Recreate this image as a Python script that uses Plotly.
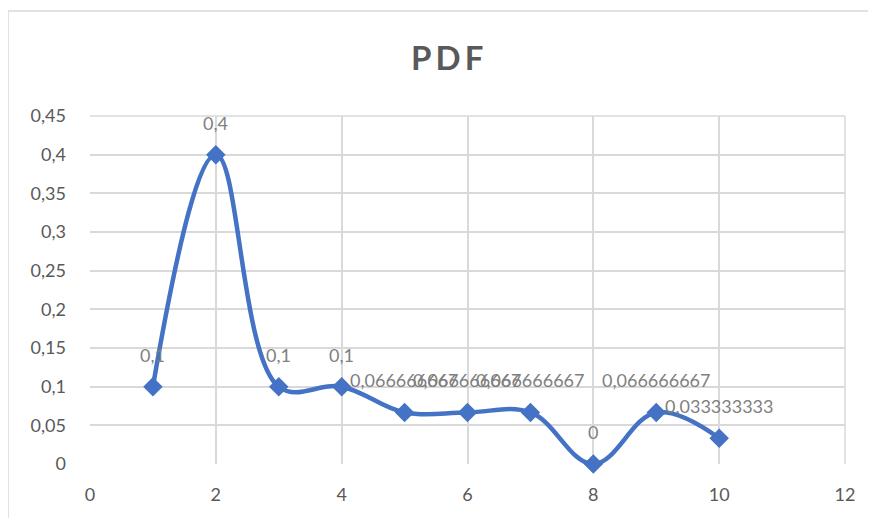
import plotly.graph_objects as go

x_values = [1, 2, 3, 4, 5, 6, 7, 8, 9, 10]
pdf_values = [0.1, 0.4, 0.1, 0.1, 0.066666667, 0.066666667, 0.066666667, 0.0, 0.066666667, 0.033333333]
x_ticks = [0, 2, 4, 6, 8, 10, 12]
y_ticks = [0, 0.05, 0.1, 0.15, 0.2, 0.25, 0.3, 0.35, 0.4, 0.45]
title_text = "PDF"


def fmt(v):
    s = "{:.9f}".format(v).rstrip("0").rstrip(".")
    return s.replace(".", ",")


FONT = "Lato, 'Open Sans', sans-serif"
BLUE = "#4472C4"
GRID = "#D9D9D9"

# page body has an 8px margin; work in figure coordinates (screen - 8)
OFF = 8
W, H = 876 - OFF, 518 - OFF
L, R, T, B = 90 - OFF, 845 - OFF, 116 - OFF, 464 - OFF


def px(xs):
    return (xs - OFF - L) / (R - L)


def py(ys):
    return (B - (ys - OFF)) / (B - T)


fig = go.Figure()
fig.add_trace(go.Scatter(
    x=x_values, y=pdf_values, mode="lines+markers",
    line=dict(color=BLUE, width=4.5, shape="spline", smoothing=1.1),
    marker=dict(symbol="diamond", size=15, color=BLUE),
    hoverinfo="skip", showlegend=False, cliponaxis=False,
))

annotations = []
for xv, yv in zip(x_values, pdf_values):
    annotations.append(dict(
        x=xv, y=yv, xref="x", yref="y", text=fmt(yv), showarrow=False,
        yshift=32, xanchor="center", yanchor="middle",
        font=dict(family=FONT, size=18, color="#808080"),
    ))

annotations.append(dict(
    x=px(446.5), y=py(57.5), xref="paper", yref="paper",
    text="<b>" + "\u2009".join(title_text) + "</b>", showarrow=False,
    xanchor="center", yanchor="middle",
    font=dict(family=FONT, size=33, color="#595959"),
))

fig.update_layout(
    width=W, height=H,
    margin=dict(l=L, r=W - R, t=T, b=H - B, pad=0),
    paper_bgcolor="white", plot_bgcolor="white",
    separators=", ",
    annotations=annotations,
    shapes=[dict(type="rect", xref="paper", yref="paper",
                 x0=px(8), y0=py(560), x1=px(900), y1=py(11),
                 line=dict(color=GRID, width=1.5), fillcolor="rgba(0,0,0,0)",
                 layer="below")],
    xaxis=dict(range=[0, 12], tickvals=x_ticks, showgrid=True, gridcolor=GRID,
               gridwidth=1.5, zeroline=False, showline=False,
               ticks="", ticklabelstandoff=18,
               tickfont=dict(family=FONT, size=18, color="#595959"),
               fixedrange=True),
    yaxis=dict(range=[0, 0.45], tickvals=y_ticks, showgrid=True, gridcolor=GRID,
               gridwidth=1.5, zeroline=False, showline=False,
               ticks="", ticklabelstandoff=23,
               tickfont=dict(family=FONT, size=18, color="#595959"),
               fixedrange=True),
)
fig.add_shape(type="line", xref="paper", yref="paper", x0=1, x1=1, y0=0, y1=1,
              line=dict(color=GRID, width=1.5), layer="below")
fig.add_shape(type="line", xref="paper", yref="paper", x0=0, x1=1, y0=1, y1=1,
              line=dict(color=GRID, width=1.5), layer="below")

fig.write_html("out.html")
